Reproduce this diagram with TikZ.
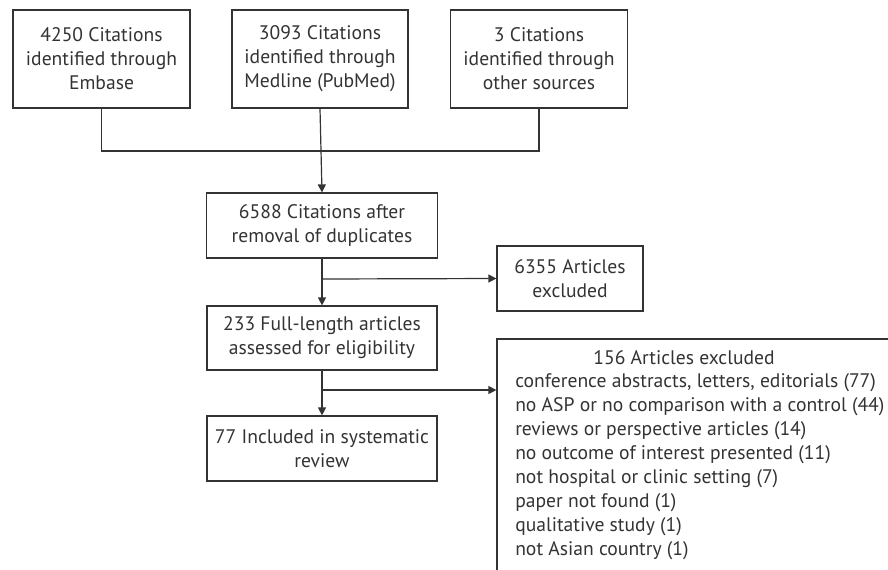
\documentclass[tikz,border=0pt]{standalone}
\usepackage{fontspec}
\setmainfont{PT Sans}
\usetikzlibrary{arrows.meta}
\definecolor{ink}{HTML}{333333}
\begin{document}
\begin{tikzpicture}[x=0.75pt,y=-0.75pt,
  every node/.style={font=\fontsize{14.7}{18}\selectfont, text=ink},
  box/.style={draw=ink, line width=0.9pt, align=center, inner sep=0pt},
  conn/.style={draw=ink, line width=0.9pt},
  arr/.style={conn, -{Triangle[length=6pt,width=6pt]}}]
\useasboundingbox (0,0) rectangle (888,569);
\node[box, minimum width=177*0.75pt, minimum height=98*0.75pt] (s1) at (101.5,59) {4250 Citations\\identified through\\Embase};
\node[box, minimum width=176*0.75pt, minimum height=98*0.75pt] (s2) at (320,59) {3093 Citations\\identified through\\Medline (PubMed)};
\node[box, minimum width=177*0.75pt, minimum height=98*0.75pt] (s3) at (539,59) {3 Citations\\identified through\\other sources};
\node[box, minimum width=231*0.75pt, minimum height=65*0.75pt] (dup) at (322,225.5) {6588 Citations after\\removal of duplicates};
\node[box, minimum width=146*0.75pt, minimum height=65*0.75pt] (ex1) at (570,278.5) {6355 Articles\\excluded};
\node[box, minimum width=230*0.75pt, minimum height=64*0.75pt] (full) at (322,338) {233 Full-length articles\\assessed for eligibility};
\node[box, minimum width=230*0.75pt, minimum height=65*0.75pt] (inc) at (322,448.5) {77 Included in systematic\\review};
\node[box, minimum width=400*0.75pt, minimum height=245*0.75pt] (ex2) at (697,461.5) {};
\node (ex2t) at (684,358) {156 Articles excluded};
\node[anchor=north west, align=left, inner sep=0pt] (ex2l) at (515,373) {conference abstracts, letters, editorials (77)\\
no ASP or no comparison with a control (44)\\
reviews or perspective articles (14)\\
no outcome of interest presented (11)\\
not hospital or clinic setting (7)\\
paper not found (1)\\
qualitative study (1)\\
not Asian country (1)};
\coordinate (j) at (321,151);
\coordinate (b1) at (321,279);
\coordinate (b2) at (321,390);
\draw[conn] (s1.south) -- (s1.south |- j) -- (s3.south |- j) -- (s3.south);
\draw[arr] (s2.south) -- (dup.north);
\draw[arr] (dup.south) -- (full.north);
\draw[arr] (b1) -- (ex1.west);
\draw[arr] (full.south) -- (inc.north);
\draw[arr] (b2) -- (ex2.west |- b2);
\end{tikzpicture}
\end{document}
